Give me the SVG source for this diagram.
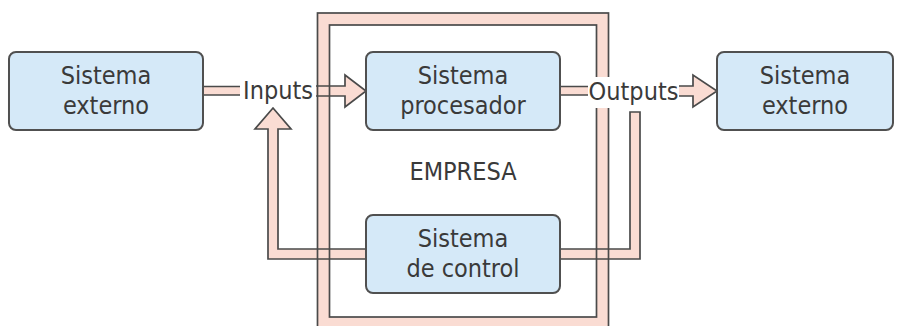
<svg xmlns="http://www.w3.org/2000/svg" width="898" height="326" viewBox="0 0 898 326">
  <style>
    .band { fill: #fadcd3; stroke: none; }
    .edge { fill: none; stroke: #4a4a4a; stroke-width: 1.7; stroke-linejoin: miter; }
    .box { fill: #d5e9f8; stroke: #505050; stroke-width: 2; }
    .lbl { font-family: "DejaVu Sans Condensed", "DejaVu Sans", sans-serif; font-stretch: condensed; font-size: 25px; fill: #3a3a3a; text-anchor: middle; }
  </style>
  <rect width="898" height="326" fill="#ffffff"/>

  <!-- company boundary: fills first, outlines later so crossings show both edges -->
  <g id="empresa">
    <path class="band" fill-rule="evenodd" d="M317.5,13 H608.5 V329 H317.5 Z M329.5,25 V317 H596.5 V25 Z"/>
  </g>

  <g id="connectors">
    <!-- band fills -->
    <rect class="band" x="203" y="86.5" width="37" height="8.5"/>
    <polygon class="band" points="316,86 345,86 345,75 366,91 345,107 345,96 316,96"/>
    <rect class="band" x="560" y="86.5" width="28" height="8.5"/>
    <polygon class="band" points="679,86 693,86 693,75 717,91 693,107 693,96 679,96"/>
    <polygon class="band" points="366,249 278,249 278,129 291,129 273,108 255,129 268,129 268,259 366,259"/>
    <polygon class="band" points="560,249 630,249 630,112 640,112 640,259 560,259"/>
  </g>

  <g id="empresa-edges">
    <rect class="edge" x="317.5" y="13" width="291" height="316"/>
    <rect class="edge" x="329.5" y="25" width="267" height="292"/>
  </g>

  <g id="connector-edges">
    <path class="edge" d="M203,86.5 H240 M203,95 H240"/>
    <path class="edge" d="M316,86 H345 V75 L366,91 L345,107 V96 H316"/>
    <path class="edge" d="M560,86.5 H588 M560,95 H588"/>
    <path class="edge" d="M679,86 H693 V75 L717,91 L693,107 V96 H679"/>
    <path class="edge" d="M366,249 H278 V129 H291 L273,108 L255,129 H268 V259 H366"/>
    <path class="edge" d="M560,249 H630 V112 H640 V259 H560"/>
  </g>

  <!-- labels on the flows -->
  <g id="inputs">
    <text class="lbl" x="278" y="99">Inputs</text>
  </g>
  <g id="outputs">
    <rect x="589" y="77" width="89" height="31" fill="#ffffff"/>
    <text class="lbl" x="633.5" y="100">Outputs</text>
  </g>
  <g id="empresa-label">
    <text class="lbl" x="463" y="180">EMPRESA</text>
  </g>

  <!-- systems -->
  <g id="externo-in">
    <rect class="box" x="9" y="52" width="194" height="78" rx="7"/>
    <text class="lbl" x="106" y="84">Sistema</text>
    <text class="lbl" x="106" y="114">externo</text>
  </g>
  <g id="procesador">
    <rect class="box" x="366" y="52" width="194" height="78" rx="7"/>
    <text class="lbl" x="463" y="84">Sistema</text>
    <text class="lbl" x="463" y="114">procesador</text>
  </g>
  <g id="control">
    <rect class="box" x="366" y="215" width="194" height="78" rx="7"/>
    <text class="lbl" x="463" y="247">Sistema</text>
    <text class="lbl" x="463" y="277">de control</text>
  </g>
  <g id="externo-out">
    <rect class="box" x="717" y="52" width="176" height="78" rx="7"/>
    <text class="lbl" x="805" y="84">Sistema</text>
    <text class="lbl" x="805" y="114">externo</text>
  </g>
</svg>
